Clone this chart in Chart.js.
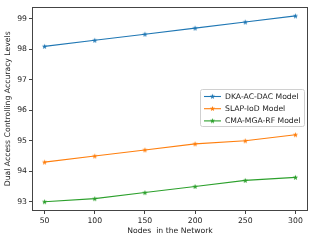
<!DOCTYPE html>
<html>
<head>
<meta charset="utf-8">
<script src="https://cdn.jsdelivr.net/npm/chart.js@4/dist/chart.umd.min.js"></script>
<style>
  html, body { margin: 0; padding: 0; background: #fff; }
  #wrap { width: 314px; height: 241px; position: relative; }
</style>
</head>
<body>
<div id="wrap"><canvas id="c" width="314" height="241"></canvas></div>
<script>
const nodes = [50, 100, 150, 200, 250, 300];
const dkaAcDac = [98.1, 98.3, 98.5, 98.7, 98.9, 99.1];
const slapIoD = [94.3, 94.5, 94.7, 94.9, 95.0, 95.2];
const cmaMgaRf = [93.0, 93.1, 93.3, 93.5, 93.7, 93.8];
const seriesNames = ['DKA-AC-DAC Model', 'SLAP-IoD Model', 'CMA-MGA-RF Model'];
const xTicks = [50, 100, 150, 200, 250, 300];
const yTicks = [93, 94, 95, 96, 97, 98, 99];

const colors = ['#1f77b4', '#ff7f0e', '#2ca02c'];
const FONT = 'DejaVu Sans';
const FS = 7.7;
const TXT = '#222';

function starImg(color) {
  const s = 9, c = document.createElement('canvas');
  c.width = s; c.height = s;
  const g = c.getContext('2d');
  const R = 2.8, r = 1.2, cx = s / 2, cy = s / 2 + 0.2;
  g.beginPath();
  for (let i = 0; i < 10; i++) {
    const rad = i % 2 === 0 ? R : r;
    const a = -Math.PI / 2 + i * Math.PI / 5;
    const px = cx + rad * Math.cos(a), py = cy + rad * Math.sin(a);
    if (i === 0) g.moveTo(px, py); else g.lineTo(px, py);
  }
  g.closePath();
  g.fillStyle = color;
  g.fill();
  return c;
}
const stars = colors.map(starImg);

const allSeries = [dkaAcDac, slapIoD, cmaMgaRf];
const datasets = allSeries.map((vals, i) => ({
  label: seriesNames[i],
  data: nodes.map((n, j) => ({ x: n, y: vals[j] })),
  borderColor: colors[i],
  backgroundColor: colors[i],
  borderWidth: 1.1,
  pointStyle: stars[i],
  pointRadius: 3,
  pointHoverRadius: 3,
  tension: 0,
  fill: false
}));

const framePlugin = {
  id: 'frame',
  afterDraw(chart) {
    const { ctx, chartArea: a } = chart;
    ctx.save();
    ctx.strokeStyle = '#444';
    ctx.lineWidth = 1;
    ctx.strokeRect(Math.round(a.left) + 0.5, Math.round(a.top) + 0.5,
      Math.round(a.right - a.left) - 1, Math.round(a.bottom - a.top) - 1);
    ctx.restore();
  }
};

const legendPlugin = {
  id: 'customLegend',
  afterDraw(chart) {
    const { ctx } = chart;
    const bx = 200.5, by = 89.5, bw = 104, bh = 37;
    ctx.save();
    ctx.fillStyle = 'rgba(255,255,255,0.85)';
    ctx.strokeStyle = '#d0d0d0';
    ctx.lineWidth = 1;
    ctx.beginPath();
    if (ctx.roundRect) ctx.roundRect(bx, by, bw, bh, 2); else ctx.rect(bx, by, bw, bh);
    ctx.fill();
    ctx.stroke();
    ctx.font = FS + 'px "' + FONT + '"';
    ctx.textBaseline = 'middle';
    ctx.fillStyle = TXT;
    chart.data.datasets.forEach((ds, i) => {
      const y = 96.5 + i * 12.2;
      ctx.strokeStyle = ds.borderColor;
      ctx.lineWidth = 1.1;
      ctx.beginPath();
      ctx.moveTo(204, y);
      ctx.lineTo(221, y);
      ctx.stroke();
      ctx.drawImage(stars[i], 212.5 - 4.5, y - 4.5 - 0.2);
      ctx.fillStyle = TXT;
      ctx.fillText(ds.label, 225, y + 0.5);
    });
    ctx.restore();
  }
};

new Chart(document.getElementById('c'), {
  type: 'line',
  data: { datasets },
  plugins: [framePlugin, legendPlugin],
  options: {
    responsive: false,
    animation: false,
    devicePixelRatio: 1,
    layout: { padding: { left: 0, right: 6, top: 5, bottom: 0 } },
    plugins: { legend: { display: false }, tooltip: { enabled: false } },
    scales: {
      x: {
        type: 'linear',
        min: 37.5,
        max: 312.5,
        afterBuildTicks: s => { s.ticks = xTicks.map(v => ({ value: v })); },
        afterFit: s => { s.height = 30; },
        border: { display: false },
        grid: { display: true, drawOnChartArea: false, drawTicks: true, tickLength: 3, color: '#444', lineWidth: 1 },
        ticks: { color: TXT, font: { family: FONT, size: FS }, padding: 2, maxRotation: 0, autoSkip: false },
        title: { display: true, text: 'Nodes  in the Network', color: TXT, font: { family: FONT, size: FS }, padding: { top: 0, bottom: 5 } }
      },
      y: {
        type: 'linear',
        min: 92.695,
        max: 99.405,
        afterBuildTicks: s => { s.ticks = yTicks.map(v => ({ value: v })); },
        afterFit: s => { s.width = 32; },
        border: { display: false },
        grid: { display: true, drawOnChartArea: false, drawTicks: true, tickLength: 3, color: '#444', lineWidth: 1 },
        ticks: { color: TXT, font: { family: FONT, size: FS }, padding: 2, autoSkip: false },
        title: { display: true, text: 'Dual Access Controlling Accuracy Levels', color: TXT, font: { family: FONT, size: FS }, padding: { top: 3.4, bottom: 0 } }
      }
    }
  }
});
</script>
</body>
</html>
